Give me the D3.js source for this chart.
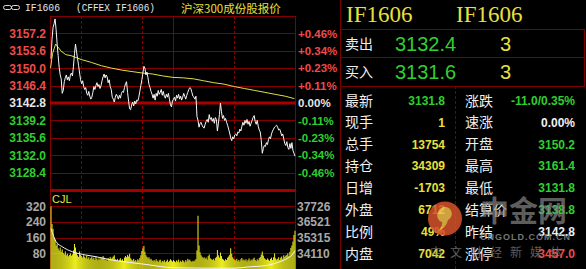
<!DOCTYPE html>
<html>
<head>
<meta charset="utf-8">
<script src="https://cdn.jsdelivr.net/npm/d3@7"></script>
<style>
html, body { margin: 0; padding: 0; background: #000; }
svg { display: block; }
</style>
</head>
<body>
<svg id="chart" width="586" height="269"></svg>
<script>
// minute closes 9:30-11:30, 13:00-15:00 (240 min)
var prices = [
3152.0, 3156.0, 3158.4, 3159.2, 3160.2, 3158.0, 3155.0, 3152.6, 3150.2, 3148.6,
3147.8, 3144.8, 3145.4, 3147.2, 3148.0, 3148.6, 3147.6, 3148.2, 3147.4, 3148.6,
3149.0, 3148.4, 3150.4, 3153.0, 3155.0, 3153.4, 3152.0, 3150.6, 3149.0, 3147.6,
3146.8, 3147.4, 3146.2, 3145.6, 3146.0, 3144.8, 3144.4, 3145.2, 3144.2, 3143.6,
3144.0, 3145.0, 3146.2, 3145.6, 3146.4, 3147.0, 3146.2, 3146.6, 3145.8, 3146.4,
3147.4, 3148.2, 3148.8, 3148.0, 3148.6, 3148.2, 3147.0, 3147.6, 3146.2, 3145.6,
3144.0, 3143.6, 3143.0, 3144.0, 3144.6, 3144.2, 3143.6, 3144.4, 3143.8, 3144.8,
3145.2, 3145.0, 3146.0, 3146.8, 3147.2, 3145.0, 3143.2, 3141.6, 3141.4, 3142.4,
3143.0, 3142.2, 3143.2, 3142.6, 3143.4, 3143.2, 3144.0, 3145.2, 3146.4, 3147.6,
3149.0, 3150.4, 3150.0, 3148.6, 3149.2, 3148.0, 3146.6, 3146.0, 3145.2, 3144.6,
3143.8, 3144.6, 3143.4, 3144.8, 3144.2, 3145.4, 3144.6, 3145.0, 3145.6, 3144.4,
3145.2, 3144.2, 3143.8, 3144.6, 3144.0, 3144.8, 3143.6, 3142.4, 3142.0, 3143.2,
3143.6, 3144.0, 3143.2, 3144.4, 3143.8, 3144.6, 3143.6, 3144.2, 3143.4, 3144.0,
3144.8, 3144.2, 3143.6, 3144.4, 3145.0, 3145.6, 3146.0, 3145.8, 3145.0, 3144.2,
3144.0, 3143.6, 3144.2, 3140.0, 3139.2, 3137.8, 3138.6, 3138.8, 3138.2, 3137.8,
3137.6, 3138.4, 3139.0, 3139.4, 3138.8, 3140.4, 3139.4, 3139.8, 3139.0, 3139.6,
3138.6, 3139.8, 3139.4, 3137.0, 3138.6, 3140.4, 3142.8, 3141.0, 3139.6, 3140.2,
3139.2, 3139.6, 3138.8, 3138.2, 3137.4, 3136.6, 3135.6, 3135.0, 3135.8, 3135.4,
3136.2, 3136.4, 3136.0, 3136.8, 3136.6, 3137.4, 3137.0, 3138.0, 3138.8, 3138.2,
3139.2, 3138.6, 3139.4, 3138.4, 3139.0, 3138.0, 3138.6, 3139.2, 3139.8, 3140.2,
3139.0, 3138.4, 3139.2, 3138.0, 3137.2, 3136.8, 3135.0, 3132.4, 3133.4, 3134.0,
3133.8, 3134.6, 3134.2, 3135.2, 3135.8, 3135.4, 3136.4, 3137.0, 3137.4, 3137.8,
3138.0, 3138.2, 3137.8, 3137.2, 3137.4, 3136.8, 3136.0, 3136.4, 3135.4, 3134.4,
3134.0, 3134.8, 3133.6, 3133.2, 3134.4, 3133.4, 3134.6, 3133.0, 3132.4, 3131.8
];

// average price line
var avgMinutes = [0, 2, 5, 8, 10, 15, 20, 25, 30, 40, 50, 60, 70, 80, 90, 100, 110, 120, 130, 140, 150, 160, 170, 180, 190, 200, 210, 220, 230, 239];
var avgPrices = [3150.0, 3153.0, 3155.0, 3154.2, 3153.6, 3152.8, 3152.6, 3152.2, 3151.8, 3151.2, 3150.5, 3150.0, 3149.6, 3149.3, 3149.0, 3148.8, 3148.4, 3148.1, 3148.0, 3147.8, 3147.4, 3147.0, 3146.7, 3146.2, 3145.8, 3145.4, 3145.0, 3144.6, 3144.2, 3143.7];

var volumes = [
320, 230, 205, 160, 150, 120, 130, 105, 95, 110,
88, 100, 82, 75, 90, 70, 78, 65, 72, 80,
68, 75, 95, 128, 110, 85, 70, 62, 90, 72,
66, 58, 70, 62, 55, 68, 52, 60, 48, 56,
62, 50, 58, 46, 64, 52, 44, 55, 48, 60,
54, 66, 58, 46, 50, 42, 56, 48, 62, 52,
58, 64, 70, 50, 45, 52, 40, 48, 55, 44,
50, 42, 58, 66, 60, 72, 64, 78, 55, 48,
44, 52, 40, 46, 38, 50, 44, 56, 70, 92,
105, 118, 88, 70, 62, 55, 60, 48, 52, 44,
40, 46, 38, 50, 42, 36, 44, 48, 34, 42,
38, 45, 35, 40, 48, 36, 42, 50, 44, 38,
46, 40, 35, 44, 38, 48, 34, 42, 36, 45,
40, 34, 46, 38, 52, 44, 48, 40, 36, 42,
38, 44, 50, 95, 272, 120, 85, 70, 62, 55,
60, 52, 58, 48, 66, 74, 55, 50, 46, 52,
44, 56, 62, 97, 70, 58, 84, 66, 52, 48,
42, 50, 46, 58, 64, 72, 106, 78, 60, 52,
48, 44, 52, 40, 46, 38, 50, 56, 44, 48,
42, 50, 38, 46, 54, 40, 48, 44, 52, 58,
46, 40, 50, 44, 56, 62, 74, 89, 68, 55,
50, 46, 54, 48, 42, 52, 58, 46, 60, 80,
55, 48, 52, 60, 46, 58, 64, 52, 70, 62,
68, 72, 80, 66, 88, 108, 120, 140, 174, 195
];

// open interest line
var oiMinutes = [0, 5, 11, 21, 34, 44, 60, 77, 93, 121, 150, 180, 194, 210, 223, 232, 236, 239];
var oiValues = [36012, 35010, 34620, 34230, 33980, 33850, 33590, 33410, 33255, 32995, 32970, 32970, 33070, 33160, 33435, 33745, 33980, 34309];

var prevSettle = 3142.8;
var priceTicks = [3128.4, 3132.0, 3135.6, 3139.2, 3142.8, 3146.4, 3150.0, 3153.6, 3157.2];
var priceGrid = [3124.8, 3128.4, 3132.0, 3135.6, 3139.2, 3146.4, 3150.0, 3153.6, 3157.2, 3160.8];
var volTicks = [80, 160, 240, 320];
var oiTicks = [34110, 35315, 36521, 37726];
var timeGrid = [30, 90, 180];
var noonMinute = 120;

var bookRows = [["卖出", "3132.4", "3"], ["买入", "3131.6", "3"]];
var quoteLeft = [["最新", "3131.8"], ["现手", "1"], ["总手", "13754"], ["持仓", "34309"], ["日增", "-1703"], ["外盘", "6712"], ["比例", "49%"], ["内盘", "7042"]];
var quoteRight = [["涨跌", "-11.0/0.35%"], ["速涨", "0.00%"], ["开盘", "3150.2"], ["最高", "3161.4"], ["最低", "3131.8"], ["结算价", "3138.8"], ["昨结", "3142.8"], ["涨停", "3457.0"]];

var RED = "#ef4b4b", GREEN = "#2fcf2f", YELLOW = "#e8e03c", GRID = "#840000";
var NUM = "'Liberation Sans', Arial, sans-serif";
var CJK = "'Noto Sans CJK SC', sans-serif";
var valueColor = {
    "最新": GREEN, "涨跌": GREEN, "速涨": "#f0f0f0", "开盘": GREEN, "最高": GREEN,
    "最低": GREEN, "结算价": GREEN, "昨结": "#f0f0f0", "涨停": RED
};

var svg = d3.select("#chart");
svg.append("rect").attr("width", 586).attr("height", 269).attr("fill", "#000");

var x = d3.scaleLinear().domain([0, 240]).range([50, 295]);
var y = d3.scaleLinear().domain([3124.8, 3160.8]).range([190, 16]);
var yv = d3.scaleLinear().domain([0, 400]).range([269, 190.7]);
var yoi = d3.scaleLinear().domain([32904.7, 38931.3]).range([269, 190.7]);

/********** header **********/
var icon = svg.append("g").attr("fill", "none").attr("stroke", "#ddd").attr("stroke-width", 1);
icon.append("rect").attr("x", 3.5).attr("y", 5.5).attr("width", 8).attr("height", 4).attr("rx", 2);
icon.append("rect").attr("x", 11.5).attr("y", 5.5).attr("width", 8).attr("height", 4).attr("rx", 2);
svg.append("text").attr("x", 25).attr("y", 11).attr("textLength", 35).attr("lengthAdjust", "spacingAndGlyphs")
    .style("font", "11px 'Liberation Mono', monospace").attr("fill", "#e8e8e8").text("IF1606");
svg.append("text").attr("x", 76).attr("y", 11).attr("textLength", 79).attr("lengthAdjust", "spacingAndGlyphs")
    .style("font", "11px 'Liberation Mono', monospace").attr("fill", "#e8e8e8").text("(CFFEX IF1606)");
svg.append("text").attr("x", 181).attr("y", 13).style("font", "11.5px " + CJK).attr("fill", YELLOW).text("沪深300成份股报价");

/********** grid **********/
var grid = svg.append("g");
grid.selectAll(".hp").data(priceGrid).enter().append("line")
    .attr("x1", 50).attr("x2", 295).attr("y1", function(d) { return Math.round(y(d)) + 0.5; })
    .attr("y2", function(d) { return Math.round(y(d)) + 0.5; })
    .attr("stroke", GRID);
grid.selectAll(".hv").data(volTicks).enter().append("line")
    .attr("x1", 50).attr("x2", 295).attr("y1", function(d) { return Math.round(yv(d)) + 0.5; })
    .attr("y2", function(d) { return Math.round(yv(d)) + 0.5; })
    .attr("stroke", GRID);
grid.selectAll(".vt").data(timeGrid).enter().append("line")
    .attr("x1", function(d) { return Math.round(x(d)) + 0.5; }).attr("x2", function(d) { return Math.round(x(d)) + 0.5; })
    .attr("y1", 16).attr("y2", 269).attr("stroke", GRID).attr("stroke-dasharray", "3,2");
grid.append("line").attr("x1", Math.round(x(noonMinute)) + 0.5).attr("x2", Math.round(x(noonMinute)) + 0.5)
    .attr("y1", 16).attr("y2", 269).attr("stroke", GRID);
grid.append("line").attr("x1", 50.5).attr("x2", 50.5).attr("y1", 16).attr("y2", 269).attr("stroke", GRID);
grid.append("line").attr("x1", 295.5).attr("x2", 295.5).attr("y1", 16).attr("y2", 269).attr("stroke", GRID);
grid.append("line").attr("x1", 50).attr("x2", 296).attr("y1", y(prevSettle)).attr("y2", y(prevSettle))
    .attr("stroke", "#a80000").attr("stroke-width", 3);
grid.append("line").attr("x1", 50).attr("x2", 296).attr("y1", 190.5).attr("y2", 190.5)
    .attr("stroke", "#a00000").attr("stroke-width", 3);

/********** axes labels **********/
function pct(p) {
    var v = (p - prevSettle) / prevSettle * 100;
    return (v > 0 ? "+" : "") + v.toFixed(2) + "%";
}
function priceColor(p) { return p > prevSettle ? RED : (p < prevSettle ? GREEN : "#e6e6e6"); }

var left = svg.append("g").attr("transform", "translate(46,0)")
    .call(d3.axisLeft(y).tickValues(priceTicks).tickSize(0).tickPadding(0).tickFormat(d3.format(".1f")));
left.select(".domain").remove();
left.selectAll("text").style("font", "bold 12px " + NUM).attr("fill", function(d) { return priceColor(d); });

var right = svg.append("g").attr("transform", "translate(298,0)")
    .call(d3.axisRight(y).tickValues(priceTicks).tickSize(0).tickPadding(0).tickFormat(pct));
right.select(".domain").remove();
right.selectAll("text").style("font", "bold 11.5px " + NUM).attr("fill", function(d) { return priceColor(d); });

var vleft = svg.append("g").attr("transform", "translate(46,0)")
    .call(d3.axisLeft(yv).tickValues(volTicks).tickSize(0).tickPadding(0));
vleft.select(".domain").remove();
vleft.selectAll("text").style("font", "bold 12px " + NUM).attr("fill", "#a8a8a8");

var vright = svg.append("g").attr("transform", "translate(297,0)")
    .call(d3.axisRight(yoi).tickValues(oiTicks).tickSize(0).tickPadding(0).tickFormat(d3.format("d")));
vright.select(".domain").remove();
vright.selectAll("text").style("font", "bold 12px " + NUM).attr("fill", "#a8a8a8");

svg.append("text").attr("x", 52).attr("y", 203).style("font", "11px " + NUM).attr("fill", YELLOW).text("CJL");

/********** volume **********/
svg.append("g").selectAll("rect").data(volumes).enter().append("rect")
    .attr("x", function(d, i) { return x(i) + 0.5; })
    .attr("width", 1.02)
    .attr("y", function(d) { return yv(d); })
    .attr("height", function(d) { return yv(0) - yv(d); })
    .attr("fill", "#eaea1e");

svg.append("path").datum(oiValues)
    .attr("d", d3.line().x(function(d, i) { return x(oiMinutes[i]) + 1; }).y(function(d) { return yoi(d); }).curve(d3.curveMonotoneX))
    .attr("fill", "none").attr("stroke", "#f4f4f4").attr("stroke-width", 1);

/********** price **********/
svg.append("path").datum(avgPrices)
    .attr("d", d3.line().x(function(d, i) { return x(avgMinutes[i]) + 0.5; }).y(function(d) { return y(d); }))
    .attr("fill", "none").attr("stroke", "#dede48").attr("stroke-width", 1);

svg.append("path").datum(prices)
    .attr("d", d3.line().x(function(d, i) { return x(i) + 1; }).y(function(d) { return y(d); }))
    .attr("fill", "none").attr("stroke", "#f8f8f8").attr("stroke-width", 1);

/********** quote panel **********/
var panel = svg.append("g");
var PANEL = "#7a0000";
panel.append("line").attr("x1", 340.5).attr("x2", 340.5).attr("y1", 0).attr("y2", 269).attr("stroke", PANEL);
panel.append("line").attr("x1", 584.5).attr("x2", 584.5).attr("y1", 29).attr("y2", 86).attr("stroke", PANEL);
[29.5, 57.5, 86.5].forEach(function(v) {
    panel.append("line").attr("x1", 340).attr("x2", 585).attr("y1", v).attr("y2", v).attr("stroke", PANEL);
});
panel.append("line").attr("x1", 455.5).attr("x2", 455.5).attr("y1", 86).attr("y2", 269)
    .attr("stroke", PANEL).attr("stroke-dasharray", "3,2");

panel.append("text").attr("x", 346).attr("y", 22).style("font", "23px 'Liberation Serif', serif").attr("fill", YELLOW).text("IF1606");
panel.append("text").attr("x", 456).attr("y", 22).style("font", "23px 'Liberation Serif', serif").attr("fill", YELLOW).text("IF1606");

var book = panel.selectAll(".book").data(bookRows).enter().append("g")
    .attr("transform", function(d, i) { return "translate(0," + (44 + i * 28) + ")"; });
book.append("text").attr("x", 345).attr("dy", "0.36em").style("font", "14px " + CJK).attr("fill", "#f0f0f0").text(function(d) { return d[0]; });
book.append("text").attr("x", 395).attr("dy", "0.36em").style("font", "20px " + NUM).attr("fill", GREEN).text(function(d) { return d[1]; });
book.append("text").attr("x", 500).attr("dy", "0.36em").style("font", "20px " + NUM).attr("fill", YELLOW).text(function(d) { return d[2]; });

var rowY = d3.scaleLinear().domain([0, 7]).range([100.5, 253.5]);
var ql = panel.selectAll(".ql").data(quoteLeft).enter().append("g")
    .attr("transform", function(d, i) { return "translate(0," + rowY(i) + ")"; });
ql.append("text").attr("x", 345).attr("dy", "0.36em").style("font", "14px " + CJK).attr("fill", "#f0f0f0").text(function(d) { return d[0]; });
ql.append("text").attr("x", 445).attr("dy", "0.36em").attr("text-anchor", "end").style("font", "bold 12px " + NUM)
    .attr("fill", function(d) { return valueColor[d[0]] || YELLOW; }).text(function(d) { return d[1]; });

var qr = panel.selectAll(".qr").data(quoteRight).enter().append("g")
    .attr("transform", function(d, i) { return "translate(0," + rowY(i) + ")"; });
qr.append("text").attr("x", 465).attr("dy", "0.36em").style("font", "14px " + CJK).attr("fill", "#f0f0f0").text(function(d) { return d[0]; });
qr.append("text").attr("x", 575).attr("dy", "0.36em").attr("text-anchor", "end").style("font", "bold 12px " + NUM)
    .attr("fill", function(d) { return valueColor[d[0]] || YELLOW; }).text(function(d) { return d[1]; });

/********** watermark **********/
var wm = svg.append("g").attr("opacity", 0.85);
wm.append("circle").attr("cx", 445).attr("cy", 218.5).attr("r", 17).attr("fill", "#d8532c");
wm.append("path").attr("d", "M438,212 a7,7 0 1,1 10,8 q-2,8 -10,11 q5,-5 4,-9 a7,7 0 0,1 -4,-10z").attr("fill", "#f2c04a");
wm.append("text").attr("x", 480).attr("y", 222).style("font", "bold 29px " + CJK).attr("fill", "#8a8a8a").attr("opacity", 0.8).text("中金网");
wm.append("text").attr("x", 480).attr("y", 240).attr("textLength", 90).style("font", "bold 9px " + NUM).attr("fill", "#8a8a8a").text("CNGOLD.COM.CN");
wm.append("text").attr("x", 430).attr("y", 257).style("font", "12px " + CJK).attr("letter-spacing", "8px").attr("fill", "#8a8a8a").attr("opacity", 0.8).text("中文财经新媒体");
</script>
</body>
</html>
